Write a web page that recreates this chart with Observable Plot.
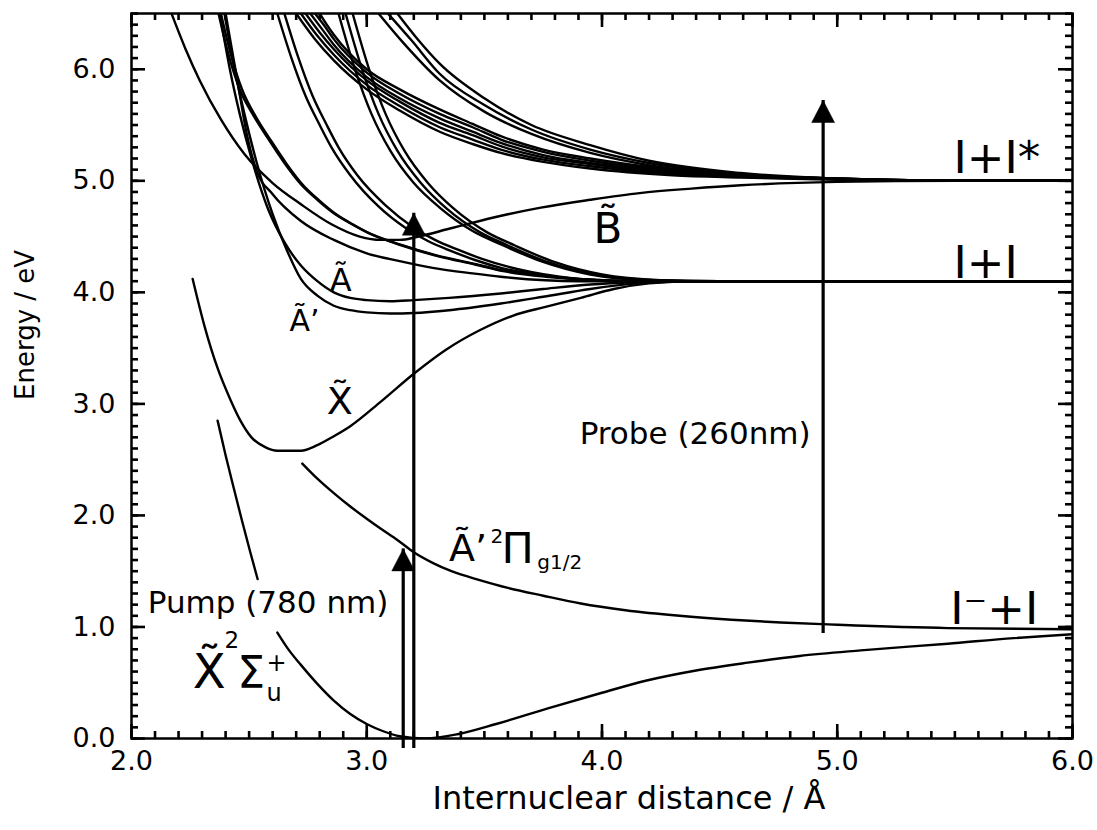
<!DOCTYPE html>
<html><head><meta charset="utf-8">
<script src="https://cdn.jsdelivr.net/npm/d3@7"></script>
<script src="https://cdn.jsdelivr.net/npm/@observablehq/plot@0.6"></script>
<style>
body{margin:0;background:#fff;}
svg{font-family:"DejaVu Sans",sans-serif;}
</style>
</head><body><div id="chart"></div>
<script>
// ---- axis ticks ----
const xTicks = [2, 3, 4, 5, 6];
const yTicks = [0, 1, 2, 3, 4, 5, 6];
const xLabel = "Internuclear distance / Å";
const yLabel = "Energy / eV";

// ---- potential curves [distance Å, energy eV] ----
const groundA = [[2.366,2.85],[2.40,2.54],[2.434,2.25],[2.47,1.95],[2.505,1.67],[2.536,1.43]];
const groundB = [[2.62,0.95],[2.67,0.79],[2.72,0.66],[2.79,0.49],[2.86,0.34],[2.93,0.22],[3.0,0.13],[3.07,0.065],[3.14,0.02],[3.25,0.0],[3.39,0.04],[3.55,0.13],[3.77,0.27],[4.0,0.41],[4.19,0.52],[4.4,0.61],[4.62,0.68],[4.84,0.74],[5.1,0.79],[5.47,0.85],[5.75,0.9],[6.0,0.935]];
const ionX = [[2.26,4.12],[2.31,3.7],[2.366,3.32],[2.42,3.04],[2.463,2.85],[2.51,2.70],[2.57,2.61],[2.62,2.58],[2.72,2.58],[2.79,2.63],[2.86,2.71],[2.93,2.80],[3.06,3.02],[3.2,3.27],[3.34,3.49],[3.48,3.66],[3.62,3.79],[3.76,3.87],[3.91,3.95],[4.05,4.03],[4.2,4.08],[4.4,4.1],[6.0,4.1]];
const aPrimePi = [[2.726,2.465],[2.79,2.33],[2.86,2.20],[2.93,2.08],[3.0,1.97],[3.06,1.88],[3.13,1.78],[3.2,1.67],[3.28,1.575],[3.36,1.50],[3.48,1.42],[3.6,1.35],[3.75,1.28],[3.91,1.21],[4.1,1.15],[4.33,1.10],[4.55,1.065],[4.76,1.04],[5.0,1.02],[5.47,0.99],[6.0,0.98]];
const stateB = [[2.17,6.5],[2.23,6.18],[2.29,5.9],[2.38,5.55],[2.48,5.24],[2.6,4.98],[2.72,4.79],[2.85,4.61],[2.97,4.5],[3.06,4.47],[3.14,4.47],[3.22,4.5],[3.35,4.57],[3.48,4.64],[3.6,4.7],[3.74,4.76],[3.95,4.83],[4.16,4.89],[4.38,4.93],[4.59,4.96],[5.0,4.99],[5.5,5.0],[6.0,5.0]];
const stateA = [[2.375,6.5],[2.42,5.98],[2.46,5.6],[2.51,5.2],[2.58,4.75],[2.65,4.45],[2.72,4.24],[2.79,4.1],[2.86,4.0],[2.93,3.95],[3.0,3.93],[3.1,3.92],[3.2,3.93],[3.35,3.95],[3.57,3.99],[3.75,4.03],[3.95,4.07],[4.15,4.09],[4.4,4.1],[6.0,4.1]];
const stateAp = [[2.395,6.5],[2.44,5.98],[2.48,5.6],[2.53,5.18],[2.6,4.7],[2.66,4.38],[2.72,4.12],[2.79,3.97],[2.86,3.88],[2.93,3.84],[3.0,3.82],[3.1,3.81],[3.2,3.815],[3.35,3.84],[3.57,3.9],[3.75,3.96],[3.95,4.03],[4.15,4.08],[4.4,4.1],[6.0,4.1]];
const t1 = [[2.37,6.5],[2.41,6.15],[2.46,5.82],[2.52,5.58],[2.58,5.38],[2.65,5.16],[2.72,4.97],[2.79,4.83],[2.86,4.71],[2.93,4.62],[3.0,4.54],[3.14,4.43],[3.3,4.33],[3.45,4.26],[3.57,4.2],[3.75,4.15],[3.9,4.12],[4.2,4.1],[6.0,4.1]];
const t1b = [[2.38,6.5],[2.42,6.15],[2.47,5.82],[2.53,5.57],[2.59,5.37],[2.66,5.15],[2.73,4.96],[2.8,4.82],[2.87,4.70],[2.94,4.61],[3.01,4.53],[3.15,4.42],[3.31,4.32],[3.46,4.25],[3.58,4.19],[3.76,4.14],[3.92,4.115],[4.2,4.1],[6.0,4.1]];
const t2 = [[2.40,6.5],[2.45,5.9],[2.49,5.42],[2.53,5.1],[2.6,4.88],[2.72,4.64],[2.86,4.47],[3.0,4.35],[3.14,4.28],[3.28,4.22],[3.45,4.17],[3.57,4.14],[3.9,4.1],[6.0,4.1]];
const m1 = [[2.62,6.5],[2.68,6.1],[2.74,5.76],[2.8,5.5],[2.85,5.3],[2.93,5.05],[3.05,4.77],[3.17,4.57],[3.26,4.46],[3.36,4.37],[3.46,4.29],[3.57,4.22],[3.8,4.14],[4.1,4.1],[6.0,4.1]];
const m2 = [[2.65,6.5],[2.71,6.1],[2.77,5.76],[2.83,5.5],[2.88,5.3],[2.96,5.05],[3.08,4.78],[3.2,4.58],[3.29,4.47],[3.39,4.38],[3.49,4.3],[3.6,4.23],[3.82,4.14],[4.1,4.1],[6.0,4.1]];
const s1 = [[2.88,6.5],[2.95,6.0],[3.02,5.6],[3.1,5.27],[3.2,4.98],[3.31,4.76],[3.45,4.55],[3.57,4.43],[3.74,4.28],[3.95,4.16],[4.2,4.11],[4.5,4.1],[6.0,4.1]];
const s2 = [[2.91,6.5],[2.98,6.0],[3.05,5.6],[3.13,5.27],[3.23,4.98],[3.34,4.75],[3.48,4.54],[3.6,4.42],[3.77,4.27],[3.97,4.16],[4.22,4.11],[4.5,4.1],[6.0,4.1]];
const s3 = [[2.94,6.5],[3.01,6.0],[3.08,5.6],[3.16,5.27],[3.26,4.98],[3.37,4.75],[3.51,4.54],[3.63,4.42],[3.8,4.27],[4.0,4.16],[4.25,4.11],[4.5,4.1],[6.0,4.1]];
const u1a = [[2.70,6.5],[2.78,6.27],[2.86,6.08],[3.0,5.82],[3.14,5.63],[3.31,5.44],[3.45,5.33],[3.57,5.25],[3.75,5.17],[3.95,5.11],[4.3,5.05],[4.59,5.03],[5.0,5.01],[5.5,5.0],[6.0,5.0]];
const u1b = [[2.72,6.5],[2.79,6.3],[2.86,6.13],[3.0,5.86],[3.14,5.67],[3.31,5.48],[3.45,5.37],[3.57,5.28],[3.75,5.19],[3.95,5.13],[4.3,5.06],[4.59,5.035],[5.0,5.015],[5.5,5.0],[6.0,5.0]];
const u1c = [[2.74,6.5],[2.80,6.33],[2.86,6.18],[3.0,5.9],[3.14,5.71],[3.31,5.52],[3.45,5.41],[3.57,5.31],[3.75,5.21],[3.95,5.15],[4.3,5.07],[4.59,5.04],[5.0,5.015],[5.5,5.0],[6.0,5.0]];
const u1d = [[2.76,6.5],[2.81,6.36],[2.86,6.22],[3.0,5.93],[3.14,5.74],[3.31,5.56],[3.45,5.44],[3.57,5.34],[3.75,5.23],[3.95,5.16],[4.3,5.08],[4.59,5.04],[5.0,5.02],[5.5,5.0],[6.0,5.0]];
const u1e = [[2.78,6.5],[2.82,6.39],[2.86,6.27],[3.0,5.97],[3.14,5.78],[3.31,5.6],[3.45,5.48],[3.57,5.37],[3.75,5.26],[3.95,5.18],[4.3,5.09],[4.59,5.05],[5.0,5.02],[5.5,5.0],[6.0,5.0]];
const u1f = [[2.80,6.5],[2.83,6.40],[2.86,6.31],[3.0,6.0],[3.14,5.82],[3.31,5.64],[3.45,5.51],[3.57,5.40],[3.75,5.28],[3.95,5.2],[4.3,5.1],[4.59,5.05],[5.0,5.02],[5.5,5.0],[6.0,5.0]];
const u2a = [[3.05,6.5],[3.15,6.25],[3.31,5.90],[3.5,5.62],[3.7,5.42],[3.95,5.25],[4.2,5.14],[4.59,5.05],[5.0,5.02],[5.5,5.0],[6.0,5.0]];
const u2b = [[3.09,6.5],[3.19,6.26],[3.31,5.96],[3.5,5.68],[3.7,5.46],[3.95,5.28],[4.2,5.16],[4.59,5.06],[5.0,5.02],[5.5,5.0],[6.0,5.0]];
const u2c = [[3.13,6.5],[3.22,6.26],[3.31,6.05],[3.5,5.74],[3.7,5.5],[3.95,5.32],[4.2,5.18],[4.59,5.07],[5.0,5.02],[5.5,5.0],[6.0,5.0]];

// ---- transition arrows ----
const arrowX = [3.155, 3.20, 4.94];
const arrowFrom = [0, 0, 1.03];
const arrowTo = [1.70, 4.71, 5.72];

// ---- annotations ----
const annotations = [
  {t: "I+I*", x: 5.494, y: 5.072, s: 45},
  {t: "I+I", x: 5.494, y: 4.13, s: 45},
  {t: "I\u207B+I", x: 5.48, y: 1.027, s: 45},
  {t: "B\u0303", x: 3.964, y: 4.444, s: 42},
  {t: "\u00C3", x: 2.843, y: 4.013, s: 32},
  {t: "\u00C3\u2019", x: 2.672, y: 3.655, s: 30},
  {t: "X\u0303", x: 2.83, y: 2.91, s: 38},
  {t: "Probe (260nm)", x: 3.905, y: 2.641, s: 31},
  {t: "Pump (780 nm)", x: 2.069, y: 1.126, s: 31},
  {t: "X\u0303", x: 2.26, y: 0.453, s: 48},
  {t: "2", x: 2.395, y: 0.81, s: 23},
  {t: "\u03A3", x: 2.45, y: 0.453, s: 44},
  {t: "+", x: 2.574, y: 0.605, s: 24},
  {t: "u", x: 2.574, y: 0.336, s: 24},
  {t: "\u00C3\u2019", x: 3.35, y: 1.592, s: 38},
  {t: "2", x: 3.526, y: 1.753, s: 20},
  {t: "\u03A0", x: 3.573, y: 1.574, s: 43},
  {t: "g1/2", x: 3.725, y: 1.52, s: 20}
];

const seriesList = [
  ["groundA", groundA], ["groundB", groundB], ["ionX", ionX], ["aPrimePi", aPrimePi],
  ["stateB", stateB], ["stateA", stateA], ["stateAp", stateAp], ["t1", t1], ["t1b", t1b], ["t2", t2],
  ["m1", m1], ["m2", m2], ["s1", s1], ["s2", s2], ["s3", s3],
  ["u1a", u1a], ["u1b", u1b], ["u1c", u1c], ["u1d", u1d], ["u1e", u1e], ["u1f", u1f],
  ["u2a", u2a], ["u2b", u2b], ["u2c", u2c]
];
const rows = seriesList.flatMap(([id, pts]) => pts.map(([x, y]) => ({id, x, y})));
const arrows = arrowX.map((x, i) => ({x, from: arrowFrom[i], to: arrowTo[i]}));

// layout
const W = 1097, H = 830, mL = 131, mR = 25, mT = 13, mB = 92;
const xDom = [2, 6], yDom = [0, 6.5];
const kx = (W - mL - mR) / (xDom[1] - xDom[0]);   // px per Å
const ky = (H - mT - mB) / (yDom[1] - yDom[0]);   // px per eV

// inward tick segments (minor every 0.1, major at labelled ticks)
const xMinor = d3.range(20, 61).map(d => d / 10);
const yMinor = d3.range(0, 66).map(d => d / 10);
const xTickSegs = [];
for (const [vals, len] of [[xMinor, 7], [xTicks, 14]]) {
  for (const v of vals) {
    xTickSegs.push({x: v, y1: yDom[0], y2: yDom[0] + len / ky});
    xTickSegs.push({x: v, y1: yDom[1] - len / ky, y2: yDom[1]});
  }
}
const yTickSegs = [];
for (const [vals, len] of [[yMinor, 7], [yTicks, 14]]) {
  for (const v of vals) {
    yTickSegs.push({y: v, x1: xDom[0], x2: xDom[0] + len / kx});
    yTickSegs.push({y: v, x1: xDom[1] - len / kx, x2: xDom[1]});
  }
}

const headSymbol = {draw(ctx, size) {
  const h = Math.sqrt(size / Math.PI);
  ctx.moveTo(0, 0); ctx.lineTo(-0.52 * h, h); ctx.lineTo(0.52 * h, h); ctx.closePath();
}};

const chart = Plot.plot({
  width: W, height: H,
  marginLeft: mL, marginRight: mR, marginTop: mT, marginBottom: mB,
  x: {domain: xDom, label: null},
  y: {domain: yDom, label: null},
  marks: [
    Plot.line(rows, {x: "x", y: "y", z: "id", curve: "monotone-x", stroke: "black", strokeWidth: 2.4, clip: true}),
    Plot.ruleX(arrows, {x: "x", y1: "from", y2: "to", stroke: "black", strokeWidth: 3.2, insetTop: 10}),
    Plot.dot(arrows, {x: "x", y: "to", symbol: headSymbol, r: 22, fill: "black", stroke: "black", strokeWidth: 0.5}),
    Plot.frame({stroke: "black", strokeWidth: 2.5}),
    Plot.axisX(xTicks, {tickSize: 0, tickPadding: 12, tickFormat: d3.format(".1f"), fontSize: 27, fontFamily: "DejaVu Sans", label: null}),
    Plot.axisY(yTicks, {tickSize: 0, tickPadding: 16, tickFormat: d3.format(".1f"), fontSize: 27, fontFamily: "DejaVu Sans", label: null}),
    Plot.text(annotations, {x: "x", y: "y", text: "t", fontSize: d => d.s, fontFamily: "DejaVu Sans", textAnchor: "start", lineAnchor: "bottom", fill: "black"}),
    Plot.text([xLabel], {frameAnchor: "bottom", text: d => d, fontSize: 32, fontFamily: "DejaVu Sans", dy: 70, dx: 27, fill: "black"}),
    Plot.text([yLabel], {frameAnchor: "left", text: d => d, fontSize: 26, fontFamily: "DejaVu Sans", rotate: -90, dx: -106, dy: 24, fill: "black"}),
    Plot.ruleX(xTickSegs, {x: "x", y1: "y1", y2: "y2", stroke: "#000", strokeWidth: 2.6}),
    Plot.ruleY(yTickSegs, {y: "y", x1: "x1", x2: "x2", stroke: "#000", strokeWidth: 2.6})
  ]
});
document.getElementById("chart").appendChild(chart);
</script>
</body></html>
